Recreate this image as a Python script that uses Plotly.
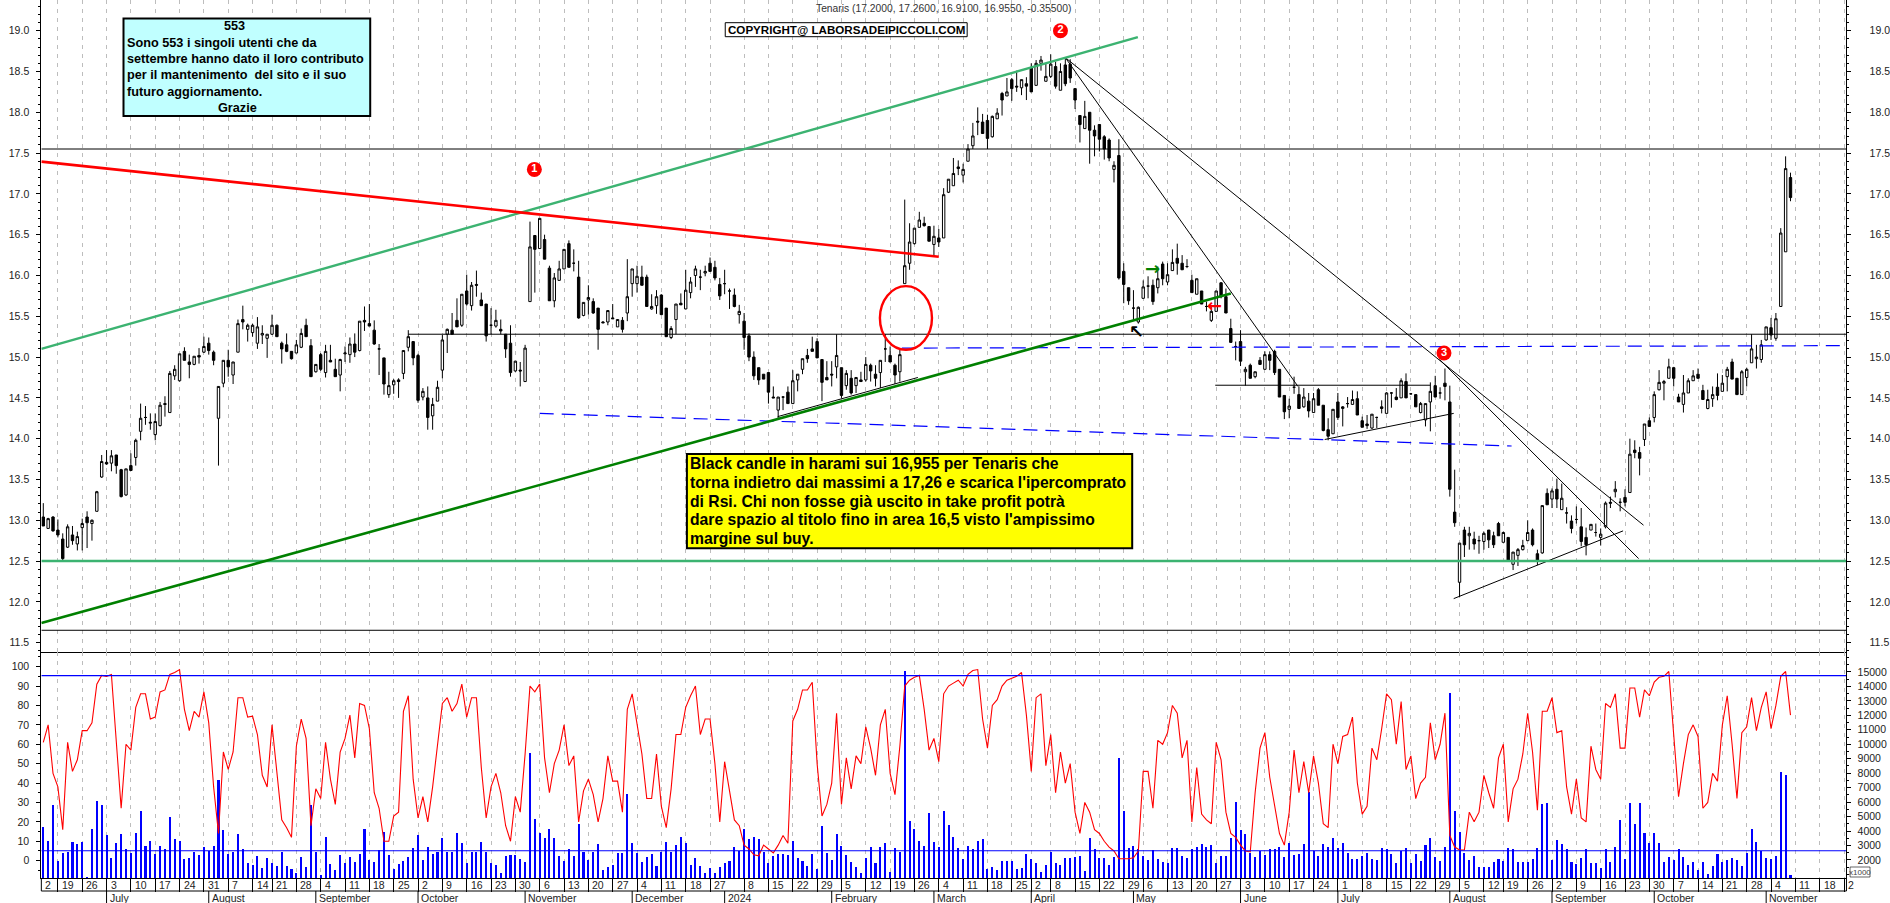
import pandas as pd
import plotly.graph_objects as go

# ---------- data ----------
HOLIDAYS = ["2023-08-15", "2023-12-25", "2023-12-26", "2024-01-01", "2024-03-29", "2024-04-01", "2024-05-01", "2024-08-15"]
WEEK_SKIPPED = ["2024-01-02"]

OPEN = [13.04,12.90,13.04,12.88,12.77,12.67,12.82,12.71,12.91,13.04,
12.96,13.11,13.53,13.71,13.70,13.80,13.62,13.31,13.67,13.77,
14.09,14.26,14.19,14.05,14.16,14.43,14.32,14.77,14.71,15.07,
14.94,14.91,15.02,15.06,15.17,15.06,14.25,14.68,14.96,14.78,
15.06,15.46,15.34,15.30,15.17,15.27,15.23,15.28,15.39,15.17,
15.15,15.07,15.05,15.12,15.39,15.14,14.82,15.03,14.81,14.96,
14.85,14.78,15.04,15.03,15.16,15.08,15.45,15.41,15.33,15.10,
14.99,14.54,14.66,14.72,14.80,15.12,15.19,15.02,14.51,14.50,
14.28,14.46,14.84,15.28,15.33,15.45,15.39,15.81,15.63,15.89,
15.70,15.65,15.39,15.38,15.34,15.28,15.17,14.83,14.84,14.70,
15.68,16.49,16.33,16.44,16.09,15.69,15.94,16.08,16.39,16.15,
15.98,15.51,15.70,15.68,15.60,15.43,15.43,15.48,15.37,15.45,
15.54,15.90,15.90,15.98,15.98,15.59,15.63,15.76,15.60,15.24,
15.46,15.66,15.59,15.79,16.00,15.98,16.03,16.15,16.10,15.89,
15.90,15.81,15.76,15.52,15.44,15.26,15.00,14.87,14.79,14.81,
14.51,14.35,14.51,14.57,14.43,14.72,14.85,15.02,15.10,15.19,
14.97,14.75,14.79,14.88,14.87,14.65,14.74,14.65,14.72,14.72,
14.90,14.79,14.81,15.10,15.02,14.90,14.82,15.90,16.15,16.39,
16.59,16.64,16.60,16.38,16.46,16.46,17.02,17.10,17.33,17.23,
17.40,17.59,17.89,17.88,17.90,17.70,17.92,18.23,18.20,18.40,
18.32,18.30,18.35,18.55,18.33,18.60,18.38,18.44,18.56,18.27,
18.58,18.59,18.29,17.96,17.80,18.00,17.78,17.85,17.70,17.66,
17.30,17.47,16.05,15.85,15.60,15.43,15.72,15.87,15.88,15.85,
16.14,15.92,16.06,16.21,16.15,16.11,15.94,15.77,15.81,15.62,
15.45,15.56,15.91,15.74,15.35,15.13,15.19,14.82,14.90,14.76,
14.96,14.85,15.03,15.07,14.85,14.53,14.36,14.63,14.54,14.39,
14.46,14.32,14.60,14.41,14.11,14.06,14.45,14.37,14.43,14.42,
14.49,14.22,14.18,14.13,14.26,14.39,14.31,14.56,14.51,14.50,
14.70,14.55,14.54,14.32,14.23,14.45,14.65,14.56,14.68,14.45,
13.10,12.24,12.88,12.81,12.77,12.75,12.74,12.88,12.81,12.96,
12.73,12.79,12.46,12.57,12.64,12.75,12.88,12.59,12.60,13.33,
13.26,13.38,13.13,13.09,12.99,13.01,12.92,12.79,12.88,12.85,
12.79,12.92,13.22,13.35,13.22,13.28,13.34,13.86,13.83,13.99,
14.22,14.26,14.60,14.68,14.74,14.87,14.51,14.42,14.56,14.71,
14.79,14.59,14.37,14.49,14.63,14.58,14.76,14.94,14.74,14.54,
14.75,14.93,14.98,14.97,15.21,15.36,15.23,15.62,16.29,17.20]

HIGH = [13.21,13.03,13.05,13.01,12.84,12.95,12.93,12.86,13.02,13.11,
13.01,13.36,13.80,13.86,13.86,13.80,13.63,13.63,13.82,14.00,
14.43,14.40,14.31,14.31,14.45,14.52,14.83,14.90,15.04,15.12,
15.03,15.01,15.11,15.25,15.24,15.08,14.64,14.96,15.09,14.94,
15.46,15.63,15.41,15.41,15.49,15.39,15.28,15.52,15.40,15.19,
15.29,15.07,15.21,15.35,15.47,15.22,14.91,15.05,15.15,15.15,
14.98,14.98,15.13,15.24,15.29,15.44,15.62,15.65,15.45,15.16,
14.99,14.82,14.73,14.74,15.08,15.33,15.19,15.04,14.62,14.64,
14.50,14.71,15.27,15.35,15.54,15.72,15.77,16.01,15.92,16.06,
15.79,15.65,15.60,15.58,15.46,15.28,15.39,14.95,14.94,15.15,
16.66,16.49,16.70,16.50,16.12,16.03,16.18,16.32,16.43,16.32,
16.18,15.67,15.88,15.72,15.60,15.44,15.57,15.65,15.46,15.49,
16.20,16.08,16.12,16.12,16.01,15.77,15.82,15.77,15.60,15.38,
15.65,15.78,16.07,15.98,16.12,16.07,16.12,16.22,16.18,15.97,
16.07,15.84,15.84,15.64,15.54,15.29,15.07,14.87,14.79,14.81,
14.64,14.51,14.52,14.64,14.84,14.79,14.98,15.10,15.25,15.23,
14.97,14.95,14.95,15.28,14.87,14.84,14.84,14.75,14.82,15.00,
14.92,14.90,14.96,15.28,15.13,14.92,15.09,16.93,16.64,16.58,
16.78,16.72,16.60,16.61,16.57,17.07,17.18,17.44,17.41,17.37,
17.61,17.87,18.06,17.98,17.97,17.96,18.05,18.25,18.42,18.42,
18.51,18.40,18.43,18.60,18.64,18.69,18.60,18.71,18.62,18.60,
18.67,18.65,18.29,17.96,18.14,18.00,17.84,17.85,17.72,17.68,
17.40,17.67,16.15,15.85,15.82,15.62,15.94,15.99,15.95,16.11,
16.17,16.15,16.32,16.39,16.25,16.20,16.01,15.96,15.81,15.68,
15.62,15.81,15.92,15.84,15.47,15.19,15.33,14.88,14.92,14.82,
15.00,15.07,15.07,15.09,14.85,14.53,14.49,14.76,14.64,14.62,
14.56,14.56,14.62,14.41,14.25,14.36,14.56,14.40,14.51,14.59,
14.58,14.27,14.29,14.30,14.27,14.47,14.57,14.57,14.62,14.74,
14.80,14.56,14.54,14.45,14.43,14.69,14.77,14.63,14.86,14.65,
13.62,12.72,12.92,12.92,12.86,12.81,12.86,12.88,12.86,12.98,
12.86,12.79,12.61,12.66,12.76,13.00,12.90,12.64,13.18,13.39,
13.39,13.51,13.45,13.16,13.06,13.17,13.15,12.91,12.95,12.96,
12.90,13.23,13.29,13.48,13.27,13.38,14.00,13.98,13.90,14.18,
14.26,14.58,14.84,14.72,14.98,14.88,14.55,14.78,14.74,14.84,
14.86,14.66,14.60,14.64,14.80,14.78,14.88,14.98,14.74,14.84,
14.87,15.28,15.15,15.21,15.37,15.48,15.54,16.58,17.46,17.26]

LOW = [12.93,12.90,12.86,12.79,12.51,12.66,12.70,12.63,12.63,12.66,
12.75,13.11,13.52,13.68,13.60,13.57,13.28,13.30,13.61,13.67,
13.98,14.17,14.11,13.98,14.15,14.27,14.32,14.72,14.70,14.96,
14.74,14.90,14.92,15.05,15.03,14.90,13.67,14.63,14.76,14.67,
15.06,15.34,15.19,15.25,15.10,15.16,14.99,15.27,15.25,14.92,
15.06,14.97,15.05,15.11,15.25,14.76,14.81,14.83,14.75,14.94,
14.76,14.58,14.94,14.93,15.00,15.07,15.32,15.38,15.15,14.78,
14.54,14.50,14.55,14.50,14.73,15.07,14.90,14.44,14.47,14.11,
14.11,14.46,14.74,15.05,15.28,15.37,15.37,15.63,15.57,15.74,
15.63,15.19,15.28,15.36,15.28,14.99,14.76,14.82,14.64,14.70,
15.68,15.79,16.33,16.20,15.69,15.61,15.94,16.08,16.10,16.05,
15.47,15.50,15.52,15.53,15.09,15.42,15.39,15.47,15.37,15.30,
15.44,15.74,15.79,15.88,15.62,15.58,15.53,15.52,15.25,15.22,
15.28,15.64,15.59,15.72,15.86,15.82,15.99,16.05,15.94,15.70,
15.77,15.59,15.61,15.41,15.09,14.95,14.72,14.66,14.73,14.43,
14.50,14.25,14.35,14.43,14.43,14.58,14.79,14.93,15.07,14.99,
14.46,14.72,14.64,14.74,14.50,14.60,14.54,14.56,14.70,14.70,
14.70,14.64,14.62,14.94,14.94,14.67,14.70,15.90,16.07,16.38,
16.59,16.60,16.42,16.24,16.35,16.46,17.01,17.10,17.23,17.14,
17.40,17.55,17.72,17.74,17.55,17.69,17.92,17.96,18.20,18.14,
18.25,18.21,18.15,18.25,18.33,18.51,18.38,18.42,18.29,18.27,
18.32,18.36,18.04,17.63,17.80,17.37,17.46,17.52,17.42,17.40,
17.14,15.95,15.66,15.64,15.45,15.41,15.72,15.72,15.64,15.78,
15.88,15.88,16.06,16.01,16.07,16.09,15.79,15.77,15.65,15.56,
15.43,15.56,15.72,15.54,15.18,14.96,14.89,14.65,14.74,14.74,
14.91,14.85,14.84,14.78,14.51,14.24,14.25,14.55,14.37,14.38,
14.26,14.32,14.41,14.09,13.98,14.06,14.23,14.15,14.38,14.42,
14.29,14.14,14.12,14.12,14.13,14.31,14.31,14.38,14.47,14.50,
14.50,14.54,14.39,14.31,14.15,14.09,14.51,14.49,14.47,13.29,
12.92,12.06,12.55,12.64,12.64,12.59,12.64,12.66,12.66,12.81,
12.73,12.51,12.39,12.44,12.63,12.75,12.68,12.45,12.59,13.19,
13.15,13.15,13.13,12.96,12.84,12.96,12.68,12.57,12.88,12.80,
12.69,12.90,13.15,13.28,13.11,13.17,13.34,13.76,13.55,13.91,
14.15,14.20,14.59,14.47,14.74,14.64,14.45,14.32,14.56,14.71,
14.74,14.48,14.36,14.39,14.47,14.58,14.58,14.73,14.54,14.54,
14.64,14.93,14.86,14.93,15.20,15.21,15.20,15.62,16.29,16.91]

CLOSE = [12.93,13.02,12.87,12.82,12.53,12.92,12.75,12.80,12.96,12.97,
13.00,13.35,13.72,13.69,13.79,13.67,13.29,13.63,13.61,13.98,
14.25,14.26,14.20,14.21,14.41,14.42,14.80,14.85,15.04,14.96,
14.91,15.01,15.00,15.13,15.08,14.96,14.64,14.96,14.88,14.94,
15.41,15.43,15.39,15.39,15.37,15.29,15.28,15.39,15.25,15.10,
15.07,14.98,15.15,15.29,15.25,14.76,14.91,14.85,15.07,14.94,
14.76,14.97,15.05,15.16,15.06,15.44,15.43,15.38,15.16,15.10,
14.67,14.65,14.71,14.70,15.08,15.25,14.99,14.47,14.58,14.26,
14.42,14.63,15.21,15.34,15.28,15.37,15.77,15.65,15.88,15.88,
15.63,15.26,15.39,15.45,15.32,15.10,14.81,14.95,14.83,15.11,
16.35,16.32,16.70,16.20,15.69,15.97,16.08,16.32,16.10,16.15,
15.48,15.67,15.73,15.54,15.34,15.42,15.57,15.47,15.46,15.34,
15.74,16.08,15.99,15.88,15.62,15.62,15.74,15.52,15.25,15.35,
15.65,15.64,15.82,15.92,16.08,15.98,16.05,16.05,15.97,15.75,
15.90,15.81,15.62,15.56,15.24,15.00,14.77,14.72,14.73,14.57,
14.50,14.51,14.51,14.43,14.71,14.79,14.98,14.98,15.07,14.99,
14.69,14.72,14.78,15.02,14.53,14.80,14.56,14.75,14.70,14.91,
14.83,14.74,14.96,15.10,14.94,14.78,15.03,16.12,16.41,16.58,
16.68,16.61,16.42,16.48,16.41,16.99,17.18,17.25,17.31,17.30,
17.55,17.71,17.88,17.74,17.68,17.95,17.99,18.15,18.25,18.29,
18.31,18.40,18.32,18.25,18.60,18.64,18.44,18.59,18.32,18.50,
18.35,18.42,18.15,17.85,17.95,17.78,17.71,17.67,17.55,17.44,
17.35,15.97,15.89,15.69,15.60,15.61,15.86,15.87,15.68,15.96,
15.96,16.01,16.16,16.15,16.07,16.11,15.79,15.96,15.65,15.62,
15.56,15.81,15.74,15.54,15.18,15.13,14.95,14.85,14.74,14.82,
14.91,15.03,14.96,14.81,14.51,14.33,14.40,14.63,14.37,14.51,
14.34,14.49,14.41,14.10,14.03,14.36,14.26,14.39,14.43,14.48,
14.29,14.14,14.16,14.30,14.26,14.37,14.56,14.56,14.48,14.71,
14.50,14.55,14.39,14.43,14.43,14.58,14.51,14.56,14.64,13.38,
12.97,12.72,12.70,12.84,12.71,12.75,12.84,12.76,12.70,12.81,
12.85,12.51,12.61,12.64,12.69,12.85,12.70,12.51,13.18,13.19,
13.36,13.26,13.27,13.09,12.90,13.01,12.74,12.70,12.95,12.85,
12.83,13.21,13.21,13.38,13.22,13.22,13.81,13.83,13.76,14.18,
14.15,14.54,14.69,14.70,14.88,14.74,14.45,14.56,14.71,14.77,
14.74,14.48,14.48,14.54,14.53,14.68,14.85,14.73,14.54,14.82,
14.85,15.10,15.00,15.15,15.37,15.27,15.47,16.52,17.31,16.955]

RSI = [61,70,45,38,16,61,46,52,67,67,
71,91,95.5,95,96,60,27,60,57,79,
86,86,73,74,87,88,96,97,98.5,78,
67,77,74,87,71,38,14,56,47,56,
84,84,74,74.5,65,44,38,70,44,21,
17,12,59,73,63,18,37,32,61,42,
29,56,63,75,53,81,80,68,35,27,
10,10,23,25,77,85,42,22,33,20,
38,60,81,84,77,81,91,74,84,84,
48,22,38,45,35,18,10,33,25,55,
90,87,91,53,35,50,57,70,49,54,
20,36,42,34,20,32,54,41,41,25,
78,86,71,55,32,32,55,28,17,37,
65,65,79,85,90,65,73,73,50,20,
51,35,21,18,8,6,3,2.5,8,6,
4,8,13,9,72,78,88,88,92,50,
23,29,40,76,29,53,37,54,50,69,
58,44,70,78,45,34,59,90,93,94.5,
95.5,78,57,63,51,86,90,91.5,93,90,
96,98,98.5,73,58,80,83,90,93,94,
95,97,75,46,84,86,49,65,35,56,
40,50,25,14,30,25,16,14,10,7,
5,1,1,1,1.5,5,46,46,27,62,
60,66,80,76,53,62,20,48,24,21,
19,61,52,25,14,12,8,5,4.5,35,
58,66,43,28,14,8,25,57,35,51,
35,54,40,19,17,60,50,64,65,74,
40,24,28,58,52,68,86,83,60,82,
47,54,32,40,43,71,52,60,76,13,
7,5.5,5.5,25,20,25,44,35,27,53,
60,20,37,42,55,76,56,26,77,77,
84,66,67,38,24,42,22,20,59,47,
42,81,79,86,58,58,89,89,74,88,
85,92,94.5,95,97.5,65,33,50,65,70,
64,27,30,45,41,70,85,60,32,66,
69,84,67,79,87,68,80,95,97.5,75]

VOLUME = [4260,3320,5790,1930,2460,2530,3220,3090,3220,850,
4120,6110,5790,3710,2120,3150,3780,2760,2460,3850,
5350,2970,3290,2390,2970,2740,4960,3430,3290,2090,
2160,2550,2350,2880,2620,2970,7540,4050,2390,2550,
3780,2740,1770,1650,2250,1470,2120,1820,1580,2550,
1580,1350,1080,2180,1490,5810,2550,940,3570,1750,
1310,2320,1820,2180,1880,2420,4150,2000,1880,2690,
3960,2320,1400,1700,1930,2230,2850,3710,2000,2880,
2420,2550,3520,2550,2550,3850,3150,1820,2550,2550,
3220,2580,1770,1630,1120,2280,2350,2350,2070,1880,
9390,4820,3850,3500,4120,3500,2280,1950,2740,2300,
4470,2580,2000,2530,3090,1310,1490,1650,2510,2510,
6550,3200,2460,1880,2230,2390,1580,2550,3220,2550,
3040,3620,3200,1650,2120,1580,1120,1420,1080,1490,
1820,1950,2880,2620,4150,3480,3570,3450,2530,1770,
2280,2390,2390,2350,3340,2120,1930,1610,2390,1380,
4360,2510,2000,3800,2970,2350,1840,1540,1120,2120,
2920,1770,2880,3150,1190,2810,2550,15090,4720,4120,
3320,2970,5230,3250,2920,5370,4400,3570,2810,2050,
2970,2760,3320,3450,1350,1540,1310,1930,1930,1930,
1350,1420,2390,2050,1820,1190,1650,2530,1820,1650,
2120,2120,2180,2280,1240,3500,2740,2120,2120,1650,
2230,9040,5390,2810,2970,2760,2280,2000,2690,2090,
1840,1820,2830,2830,2280,2120,2740,2900,3090,2920,
3020,1770,2280,2280,3500,6040,4080,3780,2510,2180,
2650,2350,2740,2790,2920,2180,3150,2350,2420,3110,
6730,2650,2280,3090,2880,3520,2850,3150,2510,2050,
2050,2300,2510,2090,2000,2810,2760,2420,1770,2620,
2810,1770,2390,1930,3040,3500,2180,1930,2920,13550,
5350,3960,2510,2000,2280,1540,1490,1490,1840,2050,
1950,2810,2760,1880,1860,1840,2070,2810,5880,5930,
2000,3390,3090,2760,1880,1720,2120,2740,1820,1770,
1420,2790,1880,2880,4770,2050,5930,4470,5930,3850,
3200,3850,3200,1880,2180,2000,2740,2180,1650,1840,
1310,1840,1030,1580,2420,1840,2000,2120,2000,1610,
2510,4150,3220,2650,2120,2070,2280,8100,7890,960]

PRICE_TICKS = [11.5, 12.0, 12.5, 13.0, 13.5, 14.0, 14.5, 15.0, 15.5, 16.0, 16.5, 17.0, 17.5, 18.0, 18.5, 19.0]
RSI_TICKS = [0, 10, 20, 30, 40, 50, 60, 70, 80, 90, 100]
VOLUME_TICKS = [2000, 3000, 4000, 5000, 6000, 7000, 8000, 9000, 10000, 11000, 12000, 13000, 14000, 15000]

# trend lines: bar index, price (start, end)
LIGHT_CHANNEL_X, LIGHT_CHANNEL_Y = [-0.4, 224.9], [15.10, 18.92]
DARK_TREND_X, DARK_TREND_Y = [-0.4, 244.0], [11.74, 15.78]
RED_TREND_X, RED_TREND_Y = [-0.4, 184.0], [17.395, 16.23]
BLACK_LINES = [
    ([210.2, 328.8], [18.66, 12.94]),
    ([210.0, 257.8], [18.67, 14.64]),
    ([286.9, 327.8], [14.97, 12.53]),
    ([289.8, 324.6], [12.04, 12.87]),
    ([263.3, 289.8], [13.99, 14.31]),
    ([240.8, 285.0], [14.655, 14.655]),
    ([150.9, 179.7], [14.27, 14.75]),
    ([-0.4, 370.5], [17.55, 17.55]),
    ([-0.4, 370.5], [11.652, 11.652]),
    ([75.0, 370.5], [15.28, 15.28]),
]
BLUE_DASH_LINES = [
    ([176.4, 370.5], [15.11, 15.14]),
    ([102.0, 301.7], [14.31, 13.91]),
]
GREEN_LEVEL = 12.5
RSI_UPPER, RSI_LOWER = 95.4, 5.1
BADGE_X, BADGE_Y, BADGE_TEXT = [100.9, 209.0, 287.8], [17.30, 19.0, 15.05], ["1", "2", "3"]

TITLE = "Tenaris (17.2000, 17.2600, 16.9100, 16.9550, -0.35500)"
COPYRIGHT = "COPYRIGHT@ LABORSADEIPICCOLI.COM"
CYAN_LINES = ["Sono 553 i singoli utenti che da", "settembre hanno dato il loro contributo",
              "per il mantenimento  del sito e il suo", "futuro aggiornamento."]
CYAN_HEAD, CYAN_TAIL = "553", "Grazie"
YELLOW_LINES = ["Black candle in harami sui 16,955 per Tenaris che",
                "torna indietro dai massimi a 17,26 e scarica l'ipercomprato",
                "di Rsi. Chi non fosse già uscito in take profit potrà",
                "dare spazio al titolo fino in area 16,5 visto l'ampissimo",
                "margine sul buy."]
MONTH_NAMES = {1: "2024", 2: "February", 3: "March", 4: "April", 5: "May", 6: "June", 7: "July",
               8: "August", 9: "September", 10: "October", 11: "November", 12: "December"}

# ---------- derived ----------
W, H = 1890, 903
def PX(v): return v / W
def PY(v): return 1 - v / H

assert len(OPEN) == len(HIGH) == len(LOW) == len(CLOSE) == len(RSI) == len(VOLUME) == 360, (
    len(OPEN), len(HIGH), len(LOW), len(CLOSE), len(RSI), len(VOLUME))

calendar = [d for d in pd.bdate_range("2023-06-14", "2024-11-29") if d.strftime("%Y-%m-%d") not in HOLIDAYS]
BARS = list(range(len(OPEN)))
XMIN, XMAX = -0.4, 370.5

week_ticks, month_ticks = [], []
seen_w, seen_m = set(), set()
for idx, d in enumerate(calendar):
    wk = d.isocalendar()[:2]
    if wk not in seen_w:
        seen_w.add(wk)
        if idx > 0 and d.strftime("%Y-%m-%d") not in WEEK_SKIPPED:
            week_ticks.append((idx, d.day))
    mo = (d.year, d.month)
    if mo not in seen_m:
        seen_m.add(mo)
        if idx > 0:
            month_ticks.append((idx, MONTH_NAMES[d.month]))
week_idx = [a for a, _ in week_ticks]

INK = "#222222"
FONT = "Liberation Sans"
traces = []
traces.append(go.Candlestick(x=BARS, open=OPEN, high=HIGH, low=LOW, close=CLOSE, whiskerwidth=0,
    increasing=dict(line=dict(color="black", width=1), fillcolor="white"),
    decreasing=dict(line=dict(color="black", width=1), fillcolor="black"),
    hoverinfo="skip", xaxis="x", yaxis="y", showlegend=False))

def line(x, y, color, width, dash="solid", xa="x", ya="y"):
    traces.append(go.Scatter(x=x, y=y, mode="lines", line=dict(color=color, width=width, dash=dash),
                             hoverinfo="skip", xaxis=xa, yaxis=ya, showlegend=False))

for x, y in BLACK_LINES:
    line(x, y, "black", 1)
for x, y in BLUE_DASH_LINES:
    line(x, y, "#0000ff", 1.2, "14px,8px")
line([XMIN, XMAX], [GREEN_LEVEL, GREEN_LEVEL], "#3cb371", 2.4)
line(LIGHT_CHANNEL_X, LIGHT_CHANNEL_Y, "#3cb371", 2.4)
line(DARK_TREND_X, DARK_TREND_Y, "#008000", 2.6)
line(RED_TREND_X, RED_TREND_Y, "#ff0000", 2.6)

traces.append(go.Scatter(x=BADGE_X, y=BADGE_Y, mode="markers+text", text=BADGE_TEXT,
    textposition="middle center", textfont=dict(color="white", size=11, family=FONT, weight="bold"),
    marker=dict(color="#ff0000", size=15, symbol="circle"), hoverinfo="skip", showlegend=False))

# invisible series so that the right-hand price axis is drawn
traces.append(go.Scatter(x=BARS, y=CLOSE, mode="lines", line=dict(width=0), opacity=0,
                         hoverinfo="skip", xaxis="x", yaxis="y2", showlegend=False))

traces.append(go.Bar(x=BARS, y=VOLUME, width=0.42, marker=dict(color="#0000ff", line=dict(width=0)),
                     base=0, hoverinfo="skip", xaxis="x2", yaxis="y3", showlegend=False))
line(BARS, RSI, "#ff0000", 1.1, xa="x2", ya="y4")
line([XMIN, XMAX], [RSI_UPPER, RSI_UPPER], "#0000ff", 1.2, xa="x2", ya="y4")
line([XMIN, XMAX], [RSI_LOWER, RSI_LOWER], "#0000ff", 1.2, xa="x2", ya="y4")

tickfont = dict(family=FONT, size=10.5, color=INK)
xdom = [PX(41.4), PX(1849.4)]
panel_y = 652.3
bottom_y = 878.3
GRID = "#bdbdbd"
common_y = dict(showgrid=False, zeroline=False, showline=True, linecolor="black", linewidth=1,
                ticks="outside", tickcolor="black", tickfont=tickfont)
layout = go.Layout(
    width=W, height=H, autosize=False, margin=dict(l=0, r=0, t=0, b=0),
    paper_bgcolor="white", plot_bgcolor="white", showlegend=False, dragmode=False, bargap=0,
    xaxis=dict(domain=xdom, range=[XMIN, XMAX], anchor="y", rangeslider=dict(visible=False), type="linear",
               tickmode="array", tickvals=week_idx, showticklabels=False, ticks="", showgrid=True,
               gridcolor=GRID, griddash="4px,5px", gridwidth=1, zeroline=False,
               showline=True, linecolor="black", linewidth=1),
    xaxis2=dict(domain=xdom, range=[XMIN, XMAX], anchor="y3", type="linear", matches="x",
                tickmode="array", tickvals=week_idx, showticklabels=False, ticks="outside", ticklen=13,
                tickcolor="black", showgrid=True, gridcolor=GRID, griddash="4px,5px", gridwidth=1,
                zeroline=False, showline=True, linecolor="black", linewidth=1),
    yaxis=dict(domain=[PY(panel_y), 1], range=[11.382, 19.376], anchor="x", side="left",
               tickmode="array", tickvals=PRICE_TICKS, tickformat=".1f", ticklen=4, ticklabelstandoff=5,
               minor=dict(dtick=0.1, ticks="outside", ticklen=2, tickcolor="black"), **common_y),
    yaxis2=dict(domain=[PY(panel_y), 1], range=[11.382, 19.376], anchor="x", side="right", overlaying="y",
                tickmode="array", tickvals=PRICE_TICKS, tickformat=".1f", ticklen=4, ticklabelstandoff=16,
                minor=dict(dtick=0.1, ticks="outside", ticklen=2, tickcolor="black"), **common_y),
    yaxis3=dict(domain=[PY(bottom_y), PY(panel_y)], range=[730, 16360], anchor="x2", side="right",
                tickmode="array", tickvals=VOLUME_TICKS, tickformat="d", ticklen=4, ticklabelstandoff=4,
                minor=dict(dtick=500, ticks="outside", ticklen=2, tickcolor="black"), **common_y),
    yaxis4=dict(domain=[PY(bottom_y), PY(panel_y)], range=[-9.1, 107.4], anchor="x2", side="left", overlaying="y3",
                tickmode="array", tickvals=RSI_TICKS, ticklen=4, ticklabelstandoff=5,
                minor=dict(dtick=5, ticks="outside", ticklen=2, tickcolor="black"), **common_y),
)

shapes, ann = [], []

def ptext(text, x, y, anchor="left", size=11, bold=False, color="black", fam=FONT):
    ann.append(dict(text=text, xref="paper", yref="paper", x=PX(x), y=PY(y), xanchor=anchor, yanchor="middle",
                    showarrow=False, align="left",
                    font=dict(family=fam, size=size, color=color, weight="bold" if bold else "normal"),
                    borderpad=0))

def box(x0, y0, x1, y1, fill, width):
    shapes.append(dict(type="rect", xref="paper", yref="paper", x0=PX(x0), x1=PX(x1), y0=PY(y0), y1=PY(y1),
                       fillcolor=fill, line=dict(color="black", width=width), layer="above"))

# bottom strip
shapes.append(dict(type="line", xref="paper", yref="paper", x0=PX(41.4), x1=PX(1849.4), y0=PY(891), y1=PY(891),
                   line=dict(color="black", width=1), layer="above"))
for v in (41.4, 1849.4):
    shapes.append(dict(type="line", xref="paper", yref="paper", x0=PX(v), x1=PX(v), y0=PY(878), y1=PY(891),
                       line=dict(color="black", width=1), layer="above"))
for idx, name in month_ticks:
    shapes.append(dict(type="line", xref="x2", yref="paper", x0=idx, x1=idx, y0=PY(891), y1=0,
                       line=dict(color="black", width=1), layer="above"))
    ann.append(dict(text=name, xref="x2", yref="paper", x=idx, y=PY(898), xanchor="left", yanchor="middle",
                    xshift=1, showarrow=False, font=dict(family=FONT, size=10.5, color=INK)))
for idx, day in week_ticks:
    text = "2" if idx >= 370 else str(day)
    ann.append(dict(text=text, xref="x2", yref="paper", x=idx, y=PY(885), xanchor="left", yanchor="middle",
                    xshift=2, showarrow=False, font=dict(family=FONT, size=10.5, color=INK)))
ann.append(dict(text="2", xref="x2", yref="paper", x=XMIN, y=PY(885), xanchor="left", yanchor="middle",
                xshift=2, showarrow=False, font=dict(family=FONT, size=10.5, color=INK)))

# red circle
shapes.append(dict(type="circle", xref="x", yref="y", x0=171.9, x1=182.6, y0=15.09, y1=15.87,
                   line=dict(color="#ff0000", width=2.4), layer="above"))

# title and boxes
ptext(TITLE, 945, 8.5, "center", 10.3, color="#333333")
box(726.4, 22.7, 968.7, 36.7, "white", 1)
ptext(COPYRIGHT, 847.5, 29.7, "center", 11.6, True)

box(123.7, 18.5, 370.8, 116, "#c0ffff", 2)
ptext(CYAN_HEAD, 235, 26, "center", 12.7, True)
for txt, yy in zip(CYAN_LINES, (43, 59, 75, 92)):
    ptext(txt, 126.5, yy, "left", 12.7, True)
ptext(CYAN_TAIL, 238, 108, "center", 12.7, True)

box(688, 454, 1134, 548.3, "#ffff00", 2)
for txt, yy in zip(YELLOW_LINES, (463.5, 482, 501, 519.5, 538)):
    ptext(txt, 690, yy, "left", 15.7, True)

# x1000 box
box(1853, 867, 1873, 877, "white", 0.6)
ptext("x1000", 1863, 872, "center", 8, color="#444444")

# little arrows drawn as arrow glyphs
arrows = [(227.9, 16.09, "→", "#008000"), (240.6, 15.63, "←", "#ff0000"), (224.6, 15.31, "↖", "black")]
for ax_x, ax_y, glyph, col in arrows:
    ann.append(dict(x=ax_x, y=ax_y, xref="x", yref="y", text=glyph, showarrow=False,
                    font=dict(family="DejaVu Sans", size=18, color=col, weight="bold")))

layout.shapes = shapes
layout.annotations = ann
fig = go.Figure(data=traces, layout=layout)
fig.write_html("out.html", config=dict(displayModeBar=False, staticPlot=True),
               post_script="document.body.style.margin='0';document.body.style.overflow='hidden';")
